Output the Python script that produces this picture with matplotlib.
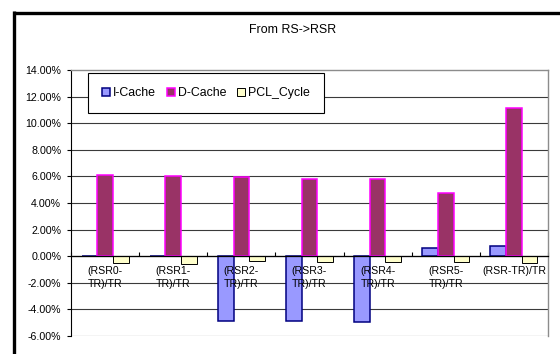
import matplotlib
matplotlib.use("Agg")
import matplotlib.pyplot as plt
from matplotlib.patches import Rectangle
from matplotlib.lines import Line2D
import numpy as np

plt.rcParams['font.family'] = ['Liberation Sans', 'DejaVu Sans']

categories = ["(RSR0-\nTR)/TR", "(RSR1-\nTR)/TR", "(RSR2-\nTR)/TR", "(RSR3-\nTR)/TR",
              "(RSR4-\nTR)/TR", "(RSR5-\nTR)/TR", "(RSR-TR)/TR"]
series_names = ["I-Cache", "D-Cache", "PCL_Cycle"]
icache = [0.05, 0.05, -4.85, -4.85, -4.95, 0.58, 0.73]
dcache = [6.11, 6.04, 5.96, 5.84, 5.84, 4.76, 11.18]
pcl_cycle = [-0.48, -0.55, -0.38, -0.40, -0.40, -0.40, -0.48]
yticks = [-6, -4, -2, 0, 2, 4, 6, 8, 10, 12, 14]

W, H = 560, 354
fig = plt.figure(figsize=(W / 100, H / 100), dpi=100)
fig.patch.set_facecolor('white')

# outer chart frame (top and left edges)
fig.add_artist(Line2D([12.5 / W, 1.0], [1 - 12.5 / H] * 2, transform=fig.transFigure,
                      color='black', lw=2.4, solid_capstyle='butt'))
fig.add_artist(Line2D([13.5 / W] * 2, [0.0, 1 - 11.3 / H], transform=fig.transFigure,
                      color='black', lw=2.4, solid_capstyle='butt'))

fig.text(293 / W, 1 - 30 / H, "From RS->RSR", ha='center', va='center', fontsize=8.9)

x0, x1 = 71, 548
y_top, y_bot = 70, 336
ax = fig.add_axes([x0 / W, 1 - y_bot / H, (x1 - x0) / W, (y_bot - y_top) / H])

n = len(categories)
x = np.arange(n)
w = 0.23
styles = [
    dict(facecolor='#9999FF', edgecolor='#000080', linewidth=1.1),
    dict(facecolor='#993366', edgecolor='#FF00FF', linewidth=1.1),
    dict(facecolor='#FFFFCC', edgecolor='black', linewidth=0.7),
]
for i, (vals, st) in enumerate(zip([icache, dcache, pcl_cycle], styles)):
    ax.bar(x + (i - 1) * w, vals, width=w, zorder=2, **st)

ax.set_xlim(-0.5, n - 0.5)
ax.set_ylim(-6, 14)

# horizontal gridlines beneath the bars
for v in yticks[:-1]:
    ax.axhline(v, color='#3a3a3a', lw=0.8, zorder=0.5)

ax.set_yticks(yticks)
ax.set_yticklabels([f"{v:.2f}%" for v in yticks])
ax.tick_params(axis='y', length=3, width=0.8, pad=4, labelsize=7.7, direction='out')

for s in ['top', 'right']:
    ax.spines[s].set_color('#8c8c8c')
    ax.spines[s].set_linewidth(1.0)
ax.spines['left'].set_color('black')
ax.spines['left'].set_linewidth(0.8)
ax.spines['bottom'].set_position(('data', 0))
ax.spines['bottom'].set_color('black')
ax.spines['bottom'].set_linewidth(0.9)
ax.spines['bottom'].set_zorder(3)

ax.set_xticks(np.arange(-0.5, n, 1.0))
ax.set_xticklabels([])
ax.tick_params(axis='x', length=3, width=0.8, direction='in')

# category labels drawn over the bars
for xi, lab in zip(x, categories):
    ax.text(xi, -0.7, lab, ha='center', va='top', fontsize=7.6, linespacing=1.4,
            zorder=5)

handles = [Rectangle((0, 0), 1, 1, **st) for st in styles]
leg = fig.legend(handles, series_names, loc='upper left',
                 bbox_to_anchor=(88 / W, 1 - 73 / H), ncol=3, fontsize=8.9,
                 frameon=True, fancybox=False, edgecolor='black', framealpha=1,
                 handlelength=0.65, handleheight=0.65, handletextpad=0.25,
                 columnspacing=0.85, borderpad=1.15, borderaxespad=0)
leg.get_frame().set_linewidth(0.8)

fig.savefig("out.png", dpi=100)
